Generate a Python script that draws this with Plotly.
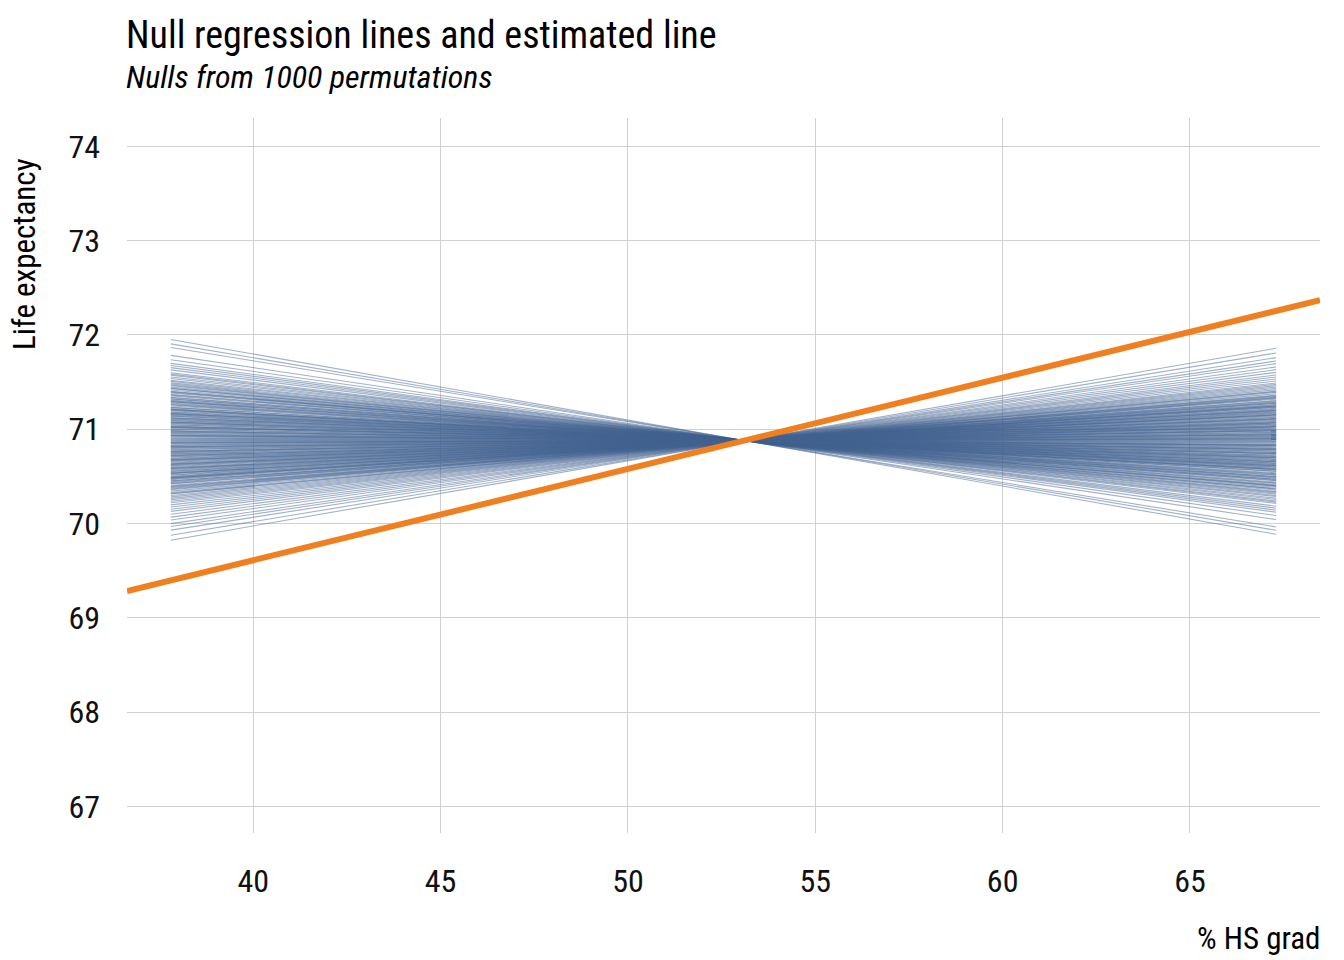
import plotly.graph_objects as go

# ---- data ----
title_text = "Null regression lines and estimated line"
subtitle_text = "Nulls from 1000 permutations"
x_label = "% HS grad"
y_label = "Life expectancy"

x_min, x_max = 37.8, 67.3          # range of % HS grad
x_mean, y_mean = 53.11, 70.88      # all null lines pass through the means
est_intercept, est_slope = 65.74, 0.0968   # estimated regression line

null_slopes = [
    -0.070, -0.067, -0.0645, -0.059, -0.056, -0.0535, -0.052, -0.0505, -0.049, -0.047,
    -0.046, -0.0452, -0.044, -0.043, -0.0418, -0.041, -0.040, -0.0392, -0.0385, -0.038,
    -0.037, -0.0362, -0.036, -0.035, -0.0342, -0.0338, -0.033, -0.032, -0.0316, -0.031,
    -0.030, -0.0297, -0.029, -0.0288, -0.028, -0.027, -0.0268, -0.026, -0.0255, -0.025,
    -0.0246, -0.024, -0.023, -0.0228, -0.022, -0.0216, -0.021, -0.0207, -0.020, -0.0196,
    -0.019, -0.0187, -0.018, -0.0176, -0.017, -0.0168, -0.016, -0.0157, -0.015, -0.0146,
    -0.014, -0.0137, -0.013, -0.0128, -0.012, -0.0117, -0.011, -0.0108, -0.010, -0.0097,
    -0.009, -0.0088, -0.008, -0.0077, -0.007, -0.0066, -0.006, -0.0057, -0.005, -0.0046,
    -0.004, -0.0036, -0.003, -0.0027, -0.002, -0.0016, -0.001, -0.0006, 0.000, 0.0004,
    0.001, 0.0013, 0.002, 0.0024, 0.003, 0.0033, 0.004, 0.0043, 0.005, 0.0054,
    0.006, 0.0063, 0.007, 0.0074, 0.008, 0.0083, 0.009, 0.0094, 0.010, 0.0103,
    0.011, 0.0114, 0.012, 0.0124, 0.013, 0.0133, 0.014, 0.0144, 0.015, 0.0155,
    0.016, 0.0163, 0.017, 0.0174, 0.018, 0.0186, 0.019, 0.0193, 0.020, 0.0205,
    0.021, 0.0214, 0.022, 0.0226, 0.023, 0.0236, 0.024, 0.0247, 0.025, 0.0258,
    0.026, 0.0265, 0.027, 0.0278, 0.028, 0.029, 0.0296, 0.030, 0.031, 0.0316,
    0.032, 0.033, 0.0335, 0.034, 0.035, 0.036, 0.0366, 0.037, 0.038, 0.039,
    0.040, 0.041, 0.042, 0.043, 0.0445, 0.046, 0.0475, 0.049, 0.051, 0.053,
    0.055, 0.0575, 0.0595, 0.062, 0.0655, 0.069,
    -0.0335, -0.0275, -0.0215, -0.0185, -0.0155, -0.0125, -0.0095, -0.0065, -0.0035, 0.0015,
    0.0045, 0.0075, 0.0105, 0.0135, 0.0165, 0.0195, 0.0225, 0.0255, 0.0285, 0.0325,
]

x_ticks = [40, 45, 50, 55, 60, 65]
y_ticks = [67, 68, 69, 70, 71, 72, 73, 74]
x_range = [36.63, 68.47]
y_range = [66.72, 74.30]

FONT = "Roboto Condensed, Roboto, sans-serif"
BLUE = "rgba(68,100,146,0.5)"
ORANGE = "#F07F1F"

fig = go.Figure()

for b in null_slopes:
    xs = [x_min, x_max]
    ys = [y_mean + b * (xv - x_mean) for xv in xs]
    fig.add_trace(go.Scatter(x=xs, y=ys, mode="lines",
                             line=dict(color=BLUE, width=1.1),
                             hoverinfo="skip", showlegend=False))

ex = list(x_range)
ey = [est_intercept + est_slope * xv for xv in ex]
fig.add_trace(go.Scatter(x=ex, y=ey, mode="lines",
                         line=dict(color=ORANGE, width=6),
                         hoverinfo="skip", showlegend=False))

fig.update_layout(
    width=1344, height=960,
    margin=dict(l=127, r=24, t=118, b=127),
    paper_bgcolor="white", plot_bgcolor="white",
    font=dict(family=FONT, color="#000000"),
    showlegend=False,
)
fig.update_xaxes(range=x_range, tickvals=x_ticks, showgrid=True,
                 gridcolor="#d0d0d0", gridwidth=1, zeroline=False,
                 showline=False, ticks="", ticklabelstandoff=26,
                 tickfont=dict(size=32, family=FONT, color="#111111"))
fig.update_yaxes(range=y_range, tickvals=y_ticks, showgrid=True,
                 gridcolor="#d0d0d0", gridwidth=1, zeroline=False,
                 showline=False, ticks="", ticklabelstandoff=26,
                 tickfont=dict(size=32, family=FONT, color="#111111"))

fig.add_annotation(text=title_text, xref="paper", yref="paper", x=0, y=1.116,
                   xanchor="left", yanchor="middle", showarrow=False, xshift=-3,
                   font=dict(size=38, family=FONT, color="#000000"))
fig.add_annotation(text="<i>" + subtitle_text + "</i>", xref="paper", yref="paper",
                   x=0, y=1.058, xanchor="left", yanchor="middle", showarrow=False,
                   xshift=-3, font=dict(size=32, family=FONT, color="#000000"))
fig.add_annotation(text=x_label, xref="paper", yref="paper", x=1.0, y=-0.147,
                   xanchor="right", yanchor="middle", showarrow=False, xshift=3,
                   font=dict(size=31, family=FONT, color="#000000"))
fig.add_annotation(text=y_label, xref="paper", yref="paper", x=-0.0855, y=0.947,
                   xanchor="center", yanchor="top", textangle=-90, showarrow=False,
                   font=dict(size=31, family=FONT, color="#000000"))

fig.write_html("out.html", config={"displayModeBar": False},
               post_script="document.body.style.margin='0';")
